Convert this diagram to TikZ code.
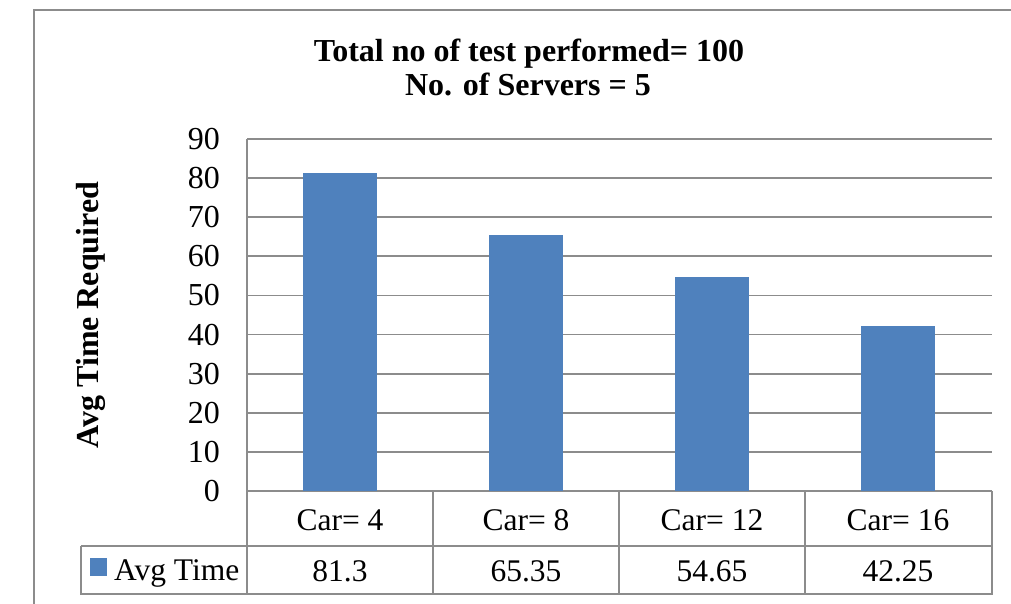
\documentclass[tikz,border=0pt]{standalone}
\usepackage{fontspec}
\setmainfont{Liberation Serif}
\definecolor{barblue}{HTML}{4F81BD}
\definecolor{gridgray}{HTML}{8C8C8C}
\begin{document}
\begin{tikzpicture}[x=1pt,y=-1pt,
  grid/.style={draw=gridgray,line width=1.8pt},
  tick/.style={anchor=east,inner sep=0pt,font=\fontsize{32}{32}\selectfont},
  cell/.style={inner sep=0pt,anchor=base,font=\fontsize{31.5}{31.5}\selectfont},
  ttl/.style={inner sep=0pt,anchor=base,font=\bfseries\fontsize{32}{32}\selectfont},
  bar/.style={fill=barblue,draw=none}]
\useasboundingbox (0,0) rectangle (1011,603);
% outer frame
\begin{scope}
\clip (0,0) rectangle (1011,603);
\draw[draw=gridgray,line width=2.6pt] (34,10) rectangle (1030,640);
\end{scope}
% title
\node[ttl] (t1) at (529,61) {Total no of test performed= 100};
\node[ttl] (t2) at (528,95) {No. of Servers = 5};
% y label
\node[ttl,rotate=90] (ylab) at (98,315) {Avg Time Required};
% gridlines and ticks
\foreach \v [count=\i from 0] in {0,10,20,30,40,50,60,70,80,90}{
  \pgfmathsetmacro{\yy}{491-\v*3.911}
  \draw[grid] (247,\yy) -- (992,\yy);
  \node[tick] (tk\i) at (220,\yy) {\v};
}
% bars
\fill[bar] (303,491) rectangle (377,{491-81.3*3.911});
\fill[bar] (489,491) rectangle (563,{491-65.35*3.911});
\fill[bar] (675,491) rectangle (749,{491-54.65*3.911});
\fill[bar] (861,491) rectangle (935,{491-42.25*3.911});
% table
\draw[grid] (247,139) -- (247,594);
\draw[grid] (81,546) -- (992,546) -- (992,491);
\draw[grid] (81,546) -- (81,594) -- (992,594) -- (992,546);
\foreach \x in {433,619,805}{\draw[grid] (\x,491) -- (\x,594);}
\node[cell] (c1) at (340,530) {Car= 4};
\node[cell] (c2) at (526,530) {Car= 8};
\node[cell] (c3) at (712,530) {Car= 12};
\node[cell] (c4) at (898,530) {Car= 16};
\node[cell] (v1) at (340,581) {81.3};
\node[cell] (v2) at (526,581) {65.35};
\node[cell] (v3) at (712,581) {54.65};
\node[cell] (v4) at (898,581) {42.25};
\fill[barblue] (90,558) rectangle (107,576);
\node[cell,anchor=base west] (leg) at (114,580) {Avg Time};
\end{tikzpicture}
\end{document}
